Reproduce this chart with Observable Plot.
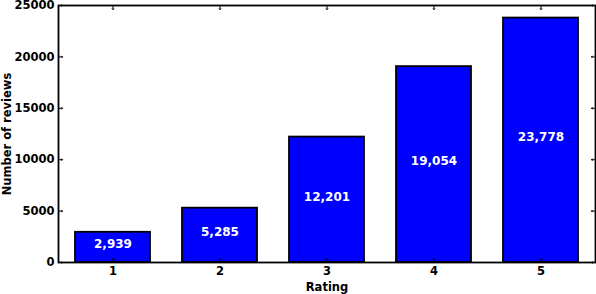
<!DOCTYPE html>
<html>
<head>
<meta charset="utf-8">
<script src="https://cdn.jsdelivr.net/npm/d3@7"></script>
<script src="https://cdn.jsdelivr.net/npm/@observablehq/plot@0.6"></script>
<style>
  html, body { margin: 0; padding: 0; background: #fff; }
  #chart { width: 596px; height: 294px; }
</style>
</head>
<body>
<div id="chart"></div>
<script>
const ratings = [1, 2, 3, 4, 5];
const counts = [2939, 5285, 12201, 19054, 23778];
const yTicks = [0, 5000, 10000, 15000, 20000, 25000];

const data = ratings.map((r, i) => ({rating: r, count: counts[i]}));
const fmt = d3.format(",");

const chart = Plot.plot({
  width: 596,
  height: 294,
  marginLeft: 58,
  marginRight: 1,
  marginTop: 5,
  marginBottom: 32,
  style: {fontFamily: "DejaVu Sans", fontSize: "11.5px", fontWeight: "bold", background: "#fff", color: "black"},
  x: {type: "band", domain: ratings, paddingInner: 0.3, paddingOuter: 0.15},
  y: {domain: [0, 25000]},
  marks: [
    Plot.barY(data, {x: "rating", y: "count", fill: "#0000ff", stroke: "black", strokeWidth: 1.8}),
    Plot.text(data, {x: "rating", y: d => d.count / 2, text: d => fmt(d.count), fill: "white", fontSize: 12, fontWeight: "bold", dy: -3}),
    Plot.vector(ratings, {x: d => d, y: 0, length: 4, anchor: "start", rotate: 0, stroke: "black", strokeWidth: 1}),
    Plot.vector(ratings, {x: d => d, y: 25000, length: 4, anchor: "start", rotate: 180, stroke: "black", strokeWidth: 1}),
    Plot.vector(yTicks, {y: d => d, frameAnchor: "left", length: 4, anchor: "start", rotate: 90, stroke: "black", strokeWidth: 1}),
    Plot.vector(yTicks, {y: d => d, frameAnchor: "right", length: 4, anchor: "start", rotate: -90, stroke: "black", strokeWidth: 1}),
    Plot.frame({stroke: "black", strokeWidth: 1.8}),
    Plot.axisX({tickSize: 0, tickPadding: 4, label: "Rating", labelAnchor: "center", labelArrow: "none", labelOffset: 28}),
    Plot.axisY({ticks: yTicks, tickSize: 0, tickPadding: 4, tickFormat: d => String(d), label: "Number of reviews", labelAnchor: "center", labelArrow: "none", labelOffset: 56})
  ]
});
document.getElementById("chart").appendChild(chart);
</script>
</body>
</html>
